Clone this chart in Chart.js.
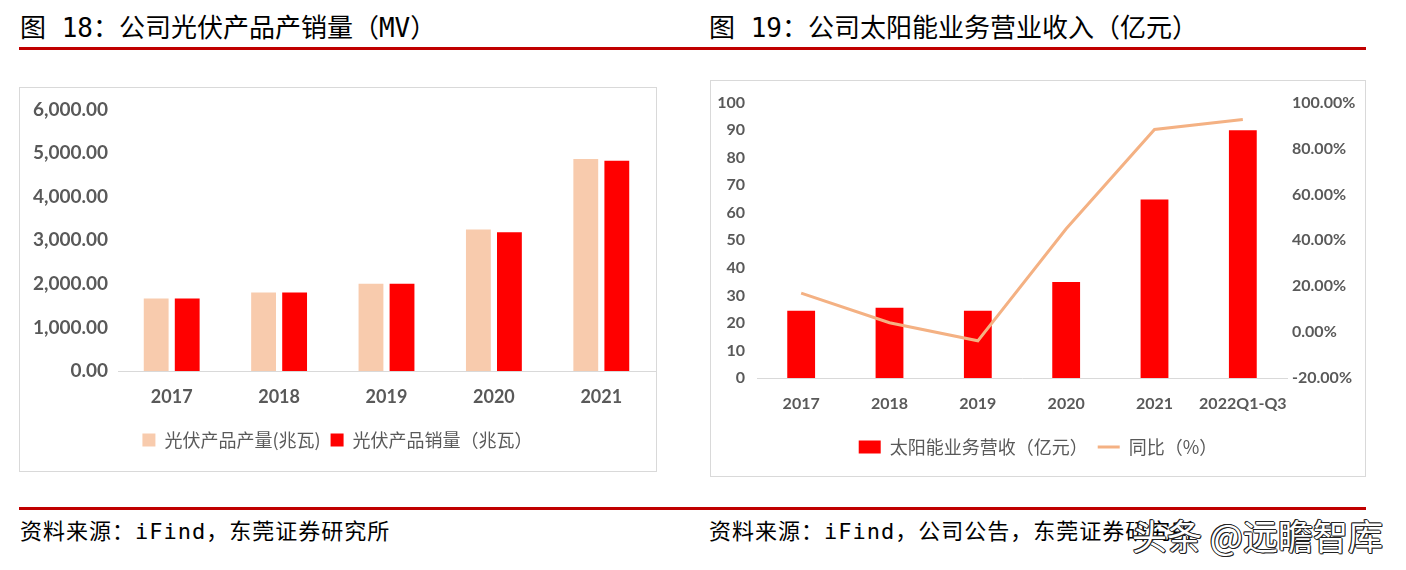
<!DOCTYPE html>
<html>
<head>
<meta charset="utf-8">
<script src="https://cdn.jsdelivr.net/npm/chart.js@4.4.0/dist/chart.umd.min.js"></script>
<style>
  body { margin: 0; width: 1406px; height: 570px; background: #fff; position: relative; overflow: hidden;
         font-family: "Noto Sans CJK SC", sans-serif; }
  .title { position: absolute; top: 11px; font-family: "DejaVu Sans Mono", "Noto Sans CJK SC", monospace;
           font-size: 26px; line-height: 34px; color: #000; white-space: nowrap; }
  .rule { position: absolute; left: 19px; width: 1347px; height: 3px; background: #c00000; }
  .box { position: absolute; border: 1px solid #d9d9d9; background: #fff; }
  .box canvas { display: block; }
  .src { position: absolute; top: 518px; font-family: "DejaVu Sans Mono", "Noto Sans CJK SC", monospace;
         font-size: 22px; letter-spacing: 1px; line-height: 28px; color: #000; white-space: nowrap; }
  .wm { position: absolute; left: 1132px; top: 514px; font-size: 35px; line-height: 42px; color: #fff;
        text-shadow: 1px 0 #222, -1px 0 #222, 0 1px #222, 0 -1px #222, 1px 1px #222, -1px -1px #222;
        white-space: nowrap; }
</style>
</head>
<body>
<div class="title" style="left:20px">图 18：公司光伏产品产销量（MV）</div>
<div class="title" style="left:709px">图 19：公司太阳能业务营业收入（亿元）</div>
<div class="rule" style="top:47px"></div>

<div class="box" style="left:19px;top:87px;width:636px;height:383px"><canvas id="chartLeft" width="636" height="383"></canvas></div>
<div class="box" style="left:710px;top:80px;width:654px;height:395px"><canvas id="chartRight" width="654" height="395"></canvas></div>

<div class="rule" style="top:507px"></div>
<div class="src" style="left:20px">资料来源：iFind，东莞证券研究所</div>
<div class="src" style="left:709px">资料来源：iFind，公司公告，东莞证券研究所</div>
<div class="wm">头条 @远瞻智库</div>

<script>
// Figure 18: PV output / sales (MW)
const pvYears = ['2017', '2018', '2019', '2020', '2021'];
const pvOutput = [1660, 1800, 2000, 3245, 4865];
const pvSales = [1660, 1800, 2000, 3180, 4820];

// Figure 19: solar business revenue and yoy
const solarYears = ['2017', '2018', '2019', '2020', '2021', '2022Q1-Q3'];
const solarRevenue = [24.4, 25.5, 24.4, 34.9, 64.8, 90];
const solarYoy = [17.0, 4.1, -3.8, 45.0, 88.3, 92.6];

const tickColor = '#595959';
const tickFamily = 'Lato, "Noto Sans", sans-serif';

new Chart(document.getElementById('chartLeft'), {
    type: 'bar',
    data: {
        labels: pvYears,
        datasets: [{
            label: '光伏产品产量(兆瓦)',
            data: pvOutput,
            backgroundColor: '#f8cbad',
            barPercentage: 0.8,
            categoryPercentage: 0.578
        }, {
            label: '光伏产品销量（兆瓦）',
            data: pvSales,
            backgroundColor: '#ff0000',
            barPercentage: 0.8,
            categoryPercentage: 0.578
        }]
    },
    options: {
        responsive: false,
        animation: false,
        devicePixelRatio: 1,
        layout: { padding: { top: 19, right: 1, bottom: 12, left: 0 } },
        scales: {
            x: {
                grid: { display: false, drawTicks: false },
                border: { color: '#d9d9d9', width: 1 },
                ticks: { color: tickColor, padding: 15, font: { family: tickFamily, size: 18, weight: 'bold' } },
                afterFit: scale => { scale.height = 50; }
            },
            y: {
                min: 0,
                max: 6000,
                grid: { display: false, drawTicks: false },
                border: { display: false },
                ticks: {
                    stepSize: 1000,
                    color: tickColor,
                    padding: 10,
                    font: { family: tickFamily, size: 19, weight: 'bold' },
                    callback: v => v.toLocaleString('en-US', { minimumFractionDigits: 2, maximumFractionDigits: 2 })
                },
                afterFit: scale => { scale.width = 98; }
            }
        },
        plugins: {
            tooltip: { enabled: false },
            legend: {
                position: 'bottom',
                labels: {
                    boxWidth: 13,
                    boxHeight: 13,
                    padding: 10,
                    color: tickColor,
                    font: { family: '"Noto Sans CJK SC", sans-serif', size: 18 }
                }
            }
        }
    }
});

new Chart(document.getElementById('chartRight'), {
    type: 'bar',
    data: {
        labels: solarYears,
        datasets: [{
            type: 'bar',
            label: '太阳能业务营收（亿元）',
            data: solarRevenue,
            backgroundColor: '#ff0000',
            barPercentage: 1,
            categoryPercentage: 0.315,
            pointStyle: 'rect',
            yAxisID: 'y',
            order: 1
        }, {
            type: 'line',
            label: '同比（%）',
            data: solarYoy,
            borderColor: '#f4b183',
            backgroundColor: '#f4b183',
            borderWidth: 3,
            pointRadius: 0,
            tension: 0,
            pointStyle: 'line',
            yAxisID: 'y1',
            order: 0
        }]
    },
    options: {
        responsive: false,
        animation: false,
        devicePixelRatio: 1,
        layout: { padding: { top: 20, right: 0, bottom: 10, left: 0 } },
        scales: {
            x: {
                grid: { display: false, drawTicks: false },
                border: { color: '#d9d9d9', width: 1 },
                ticks: {
                    color: tickColor,
                    padding: 16,
                    maxRotation: 0,
                    minRotation: 0,
                    autoSkip: false,
                    font: { family: tickFamily, size: 16, weight: 'bold' }
                },
                afterFit: scale => { scale.height = 50; }
            },
            y: {
                position: 'left',
                min: 0,
                max: 100,
                grid: { display: false, drawTicks: false },
                border: { display: false },
                ticks: { stepSize: 10, color: tickColor, padding: 12, font: { family: tickFamily, size: 16, weight: 'bold' } },
                afterFit: scale => { scale.width = 46; }
            },
            y1: {
                position: 'right',
                min: -20,
                max: 100,
                grid: { display: false, drawTicks: false },
                border: { display: false },
                ticks: {
                    stepSize: 20,
                    color: tickColor,
                    padding: 5,
                    font: { family: tickFamily, size: 16, weight: 'bold' },
                    callback: v => v.toFixed(2) + '%'
                },
                afterFit: scale => { scale.width = 78; }
            }
        },
        plugins: {
            tooltip: { enabled: false },
            legend: {
                position: 'bottom',
                labels: {
                    usePointStyle: true,
                    pointStyleWidth: 22,
                    boxHeight: 13,
                    padding: 10,
                    color: tickColor,
                    font: { family: '"Noto Sans CJK SC", sans-serif', size: 18 },
                    sort: (a, b) => a.datasetIndex - b.datasetIndex
                }
            }
        }
    }
});
</script>
</body>
</html>
